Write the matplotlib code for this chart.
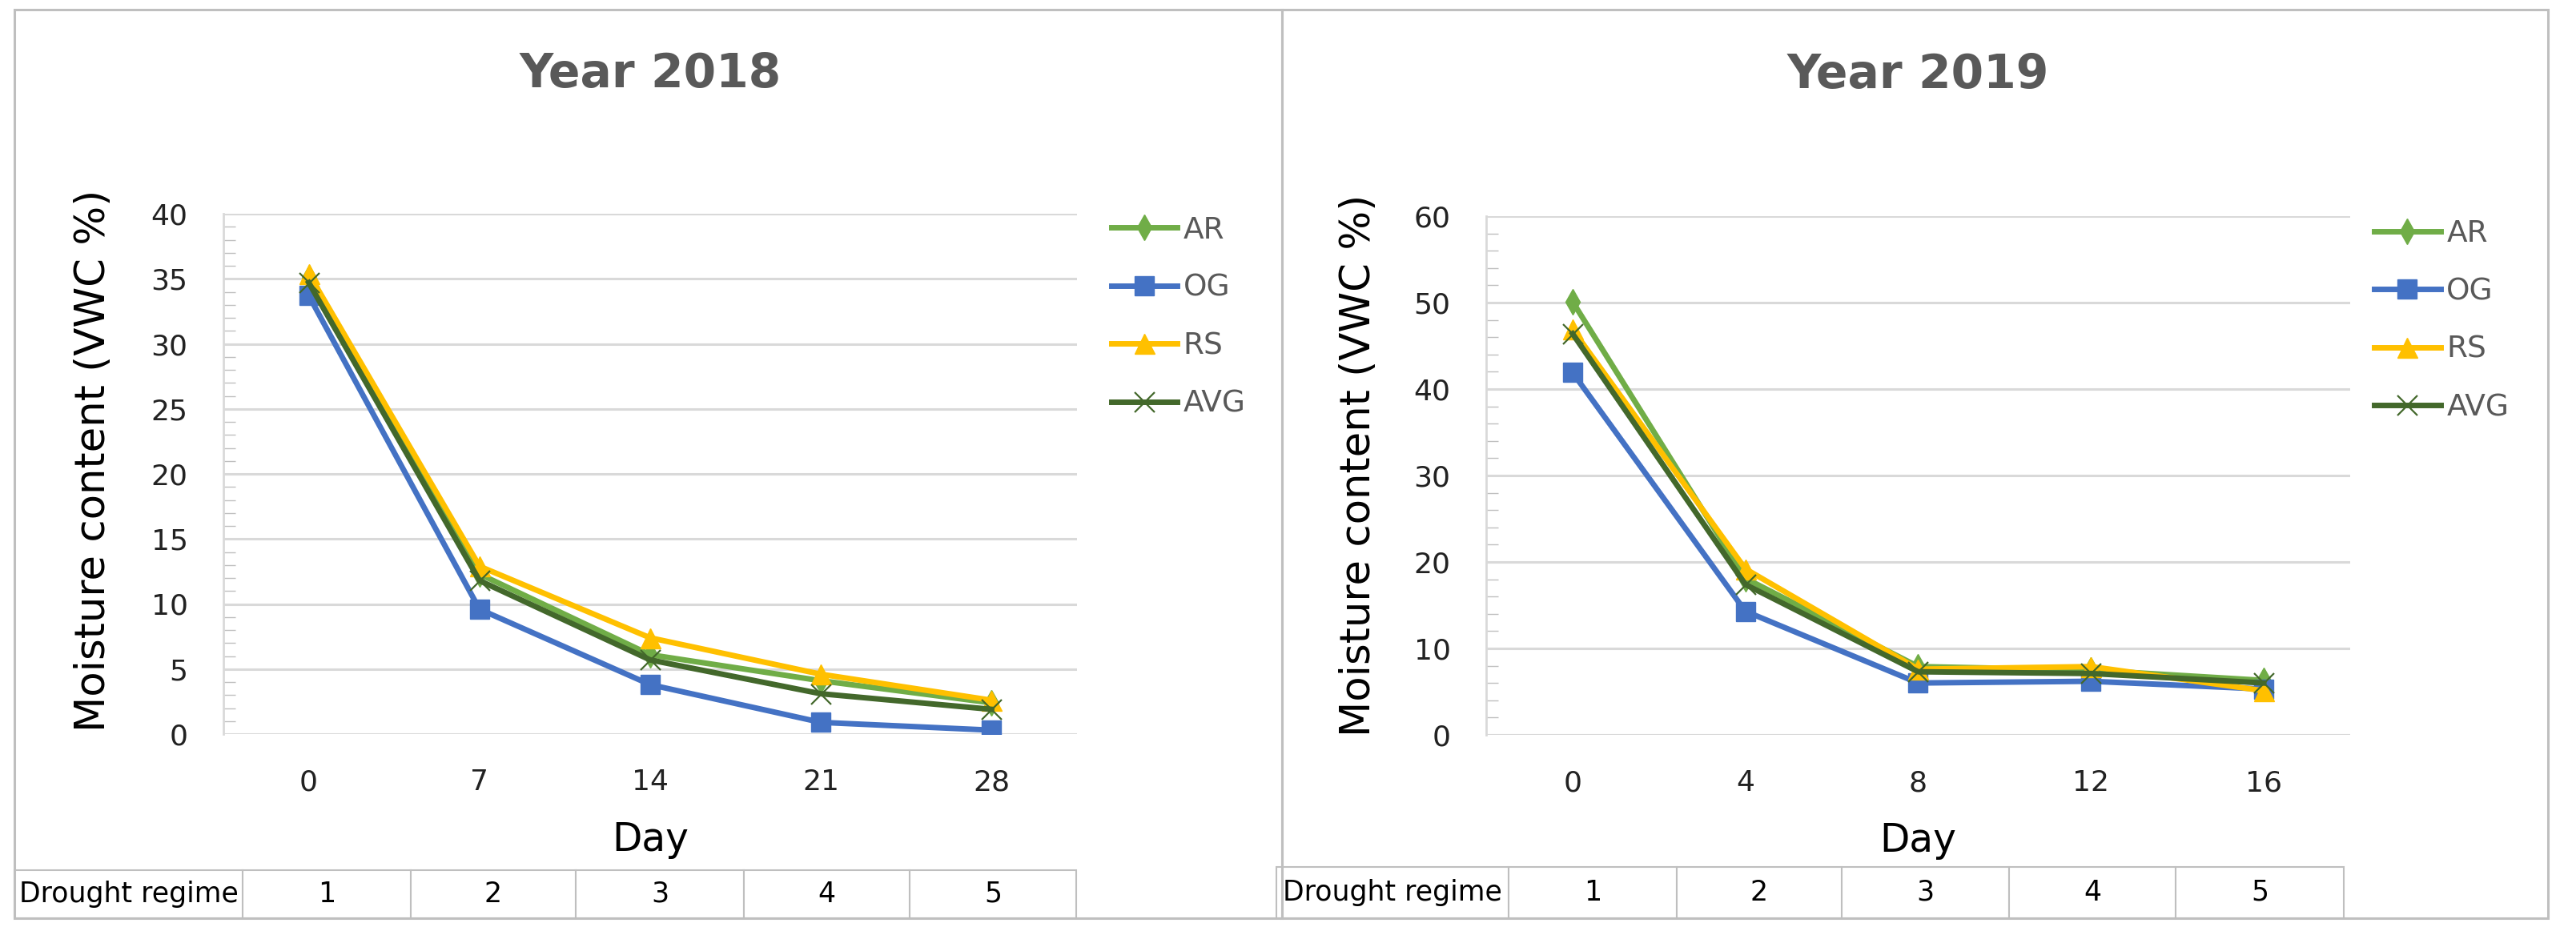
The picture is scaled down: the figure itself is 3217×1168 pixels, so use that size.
"""Soil moisture (VWC %) over the drought regimes, 2018 and 2019 trials."""

from __future__ import annotations

import matplotlib

matplotlib.use("Agg")
import matplotlib.pyplot as plt
from matplotlib.patches import Rectangle
from matplotlib.ticker import MultipleLocator


# Category axis (sampling day) and drought regime table
days_2018 = ["0", "7", "14", "21", "28"]
days_2019 = ["0", "4", "8", "12", "16"]
regimes = ["1", "2", "3", "4", "5"]
series_names = ["AR", "OG", "RS", "AVG"]

# Values
ar_2018 = [35.1, 12.3, 6.1, 4.1, 2.4]
og_2018 = [33.7, 9.6, 3.8, 0.9, 0.3]
rs_2018 = [35.4, 12.9, 7.4, 4.6, 2.6]
avg_2018 = [34.7, 11.8, 5.7, 3.1, 1.9]

ar_2019 = [50.1, 18.1, 7.9, 7.5, 6.3]
og_2019 = [41.9, 14.3, 6.0, 6.2, 5.3]
rs_2019 = [46.9, 19.2, 7.6, 7.9, 5.1]
avg_2019 = [46.4, 17.4, 7.3, 7.1, 6.0]

COLORS = {"AR": "#70AD47", "OG": "#4472C4", "RS": "#FFC000", "AVG": "#43682B"}
MARKERS = {"AR": "d", "OG": "s", "RS": "^", "AVG": "x"}
MSIZE = {"AR": 16, "OG": 17, "RS": 18, "AVG": 18}

FIG_W, FIG_H = 3217, 1168
GRID = "#D9D9D9"
BORDER = "#BFBFBF"


def px_rect(x0, y_top, x1, y_bottom):
    """Figure-fraction rect from pixel corners (y measured from the top)."""
    return [x0 / FIG_W, 1 - y_bottom / FIG_H, (x1 - x0) / FIG_W, (y_bottom - y_top) / FIG_H]


def draw_panel(fig, rect, days, values, ymax, major, minor, title, title_y,
               legend_xy, ylabel_xy, table_box, col_widths):
    ax = fig.add_axes(rect)
    x = list(range(len(days)))

    for name, ys in zip(series_names, values):
        mew = 1.6 if name == "AVG" else 1.0
        ax.plot(x, ys, color=COLORS[name], lw=5, marker=MARKERS[name],
                ms=MSIZE[name], mec=COLORS[name], mfc=COLORS[name], mew=mew,
                label=name, zorder=3)

    ax.set_xlim(-0.5, len(days) - 0.5)
    ax.set_ylim(0, ymax)
    ax.set_xticks(x, days)
    ax.yaxis.set_major_locator(MultipleLocator(major))
    ax.yaxis.set_minor_locator(MultipleLocator(minor))
    ax.grid(axis="y", which="major", color=GRID, lw=2.2)
    ax.set_axisbelow(True)
    for side in ("top", "right", "bottom"):
        ax.spines[side].set_visible(False)
    ax.spines["left"].set_color(GRID)
    ax.spines["left"].set_linewidth(2)

    ax.tick_params(axis="y", which="major", length=0, pad=32, labelsize=26, labelcolor="#222222")
    ax.tick_params(axis="y", which="minor", direction="in", length=11, width=1, color=BORDER)
    ax.tick_params(axis="x", length=0, pad=31, labelsize=26, labelcolor="#222222")

    ax.text(0.5, title_y, title, transform=ax.transAxes, ha="center", va="center",
            fontsize=42, fontweight="bold", color="#595959")
    ax.set_ylabel("Moisture content (VWC %)", fontsize=37, color="black", va="center")
    ax.yaxis.set_label_coords(*ylabel_xy)
    ax.set_xlabel("Day", fontsize=35, color="black", va="center")
    ax.xaxis.set_label_coords(0.5, -0.203)

    ax.legend(loc="upper left", bbox_to_anchor=legend_xy, frameon=False, fontsize=27,
              labelcolor="#595959", handlelength=2.2, handletextpad=0.2,
              labelspacing=0.97, borderpad=0, borderaxespad=0, numpoints=1)

    tbl = ax.table(cellText=[["Drought regime"] + regimes], colWidths=col_widths,
                   cellLoc="center", bbox=table_box)
    tbl.auto_set_font_size(False)
    tbl.set_fontsize(25)
    for cell in tbl.get_celld().values():
        cell.set_edgecolor(BORDER)
        cell.set_linewidth(1.5)
    return ax


def main() -> None:
    fig = plt.figure(figsize=(FIG_W / 100, FIG_H / 100), dpi=100)

    draw_panel(fig, px_rect(279, 267, 1345, 917), days_2018,
               [ar_2018, og_2018, rs_2018, avg_2018], 40, 5, 1,
               "Year 2018", 1.268, (1.040, 0.996), (-0.152, 0.526),
               [-0.2448, -0.3538, 1.2439, 0.0923], [285, 210, 206, 210, 207, 208])

    draw_panel(fig, px_rect(1856, 270, 2935, 918), days_2019,
               [ar_2019, og_2019, rs_2019, avg_2019], 60, 10, 2,
               "Year 2019", 1.273, (1.028, 0.994), (-0.147, 0.52),
               [-0.2428, -0.3534, 1.2354, 0.0988], [290, 210, 206, 209, 208, 210])

    # Outer frames of the two chart panels
    for x0, x1 in ((18, 1601), (1601, 3182)):
        r = px_rect(x0, 12, x1, 1147)
        fig.add_artist(Rectangle((r[0], r[1]), r[2], r[3], transform=fig.transFigure,
                                 fill=False, ec=BORDER, lw=2.2))

    fig.savefig("out.png", dpi=100, facecolor="white")


if __name__ == "__main__":
    main()
